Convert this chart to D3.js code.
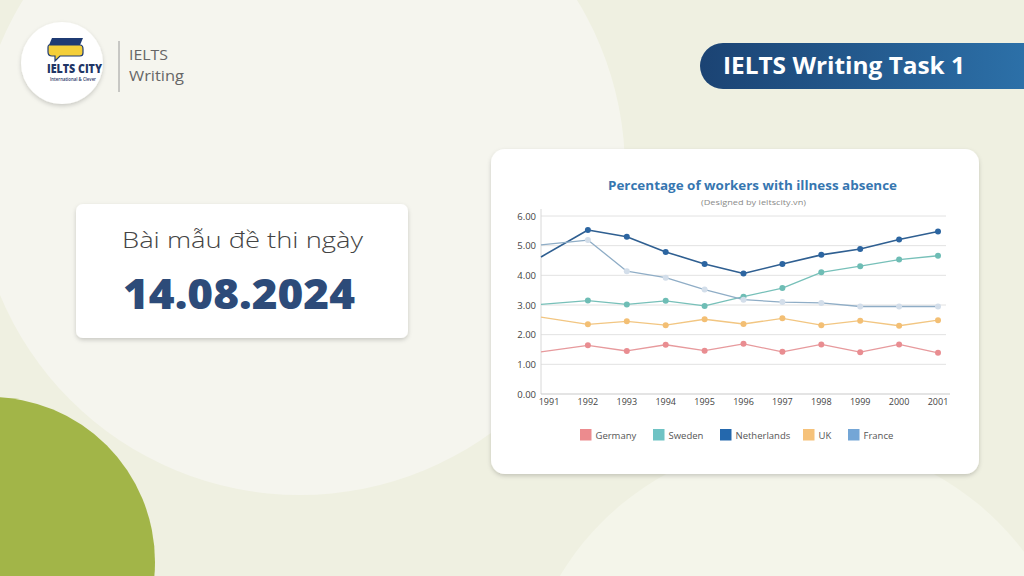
<!DOCTYPE html>
<html>
<head>
<meta charset="utf-8">
<script src="https://cdn.jsdelivr.net/npm/d3@7"></script>
<style>
  html, body { margin: 0; padding: 0; background: #f0f1e4; }
  svg { display: block; }
  text { font-family: "Open Sans", "DejaVu Sans", sans-serif; }
</style>
</head>
<body>
<svg id="page" width="1024" height="576"></svg>
<script>
// ---------- data ----------
const years = [1991, 1992, 1993, 1994, 1995, 1996, 1997, 1998, 1999, 2000, 2001];
const germany     = [1.42, 1.64, 1.45, 1.66, 1.46, 1.69, 1.42, 1.67, 1.41, 1.67, 1.39];
const sweden      = [3.02, 3.15, 3.02, 3.14, 2.97, 3.28, 3.57, 4.10, 4.31, 4.53, 4.66];
const netherlands = [4.62, 5.53, 5.30, 4.79, 4.38, 4.06, 4.38, 4.69, 4.89, 5.21, 5.48];
const uk          = [2.59, 2.35, 2.45, 2.32, 2.52, 2.36, 2.55, 2.32, 2.47, 2.30, 2.49];
const france      = [5.03, 5.19, 4.14, 3.92, 3.52, 3.18, 3.10, 3.07, 2.95, 2.95, 2.95];
const seriesNames = ["Germany", "Sweden", "Netherlands", "UK", "France"];
const yTicks = [0, 1, 2, 3, 4, 5, 6];
const chartTitle = "Percentage of workers with illness absence";
const chartSubtitle = "(Designed by ieltscity.vn)";

const seriesValues = [germany, sweden, netherlands, uk, france];
const legendColors = ["#ec8b8e", "#6fc3c4", "#2468ad", "#f6c27a", "#74a6d6"];
const lineColors   = ["#e79a9d", "#77c0b9", "#2f5f91", "#f2c682", "#8fadc6"];
const dotColors    = ["#e98d91", "#6ebdb5", "#2c65a1", "#f3bf74", "#d3deea"];

const svg = d3.select("#page");
const defs = svg.append("defs");

const sh = defs.append("filter").attr("id", "shadow").attr("x", "-10%").attr("y", "-10%").attr("width", "120%").attr("height", "130%");
sh.append("feDropShadow").attr("dx", 0).attr("dy", 2).attr("stdDeviation", 2).attr("flood-color", "#000").attr("flood-opacity", 0.18);

const grad = defs.append("linearGradient").attr("id", "banner").attr("x1", 0).attr("x2", 1).attr("y1", 0).attr("y2", 0);
grad.append("stop").attr("offset", "0%").attr("stop-color", "#1b4373");
grad.append("stop").attr("offset", "100%").attr("stop-color", "#2c70a8");

function wideText(sel, len) {
  return sel.attr("textLength", len).attr("lengthAdjust", "spacingAndGlyphs");
}

// ---------- background ----------
svg.append("rect").attr("width", 1024).attr("height", 576).attr("fill", "#eff0e1");
svg.append("circle").attr("cx", 300).attr("cy", 170).attr("r", 325).attr("fill", "#f5f5ee");
svg.append("circle").attr("cx", 800).attr("cy", 720).attr("r", 280).attr("fill", "#f4f5ea");
svg.append("circle").attr("cx", -10).attr("cy", 562).attr("r", 165).attr("fill", "#a2b548");

// ---------- logo ----------
svg.append("circle").attr("cx", 62).attr("cy", 63).attr("r", 41).attr("fill", "#ffffff").attr("filter", "url(#shadow)");
svg.append("path").attr("d", "M52,38 L83,38 L80,45 L49,45 Z").attr("fill", "#1f3b73");
svg.append("path").attr("d", "M49,45 L80,45 Q83,45 83,49 L83,53 Q83,56 80,56 L60,56 L55,61 L55,56 L52,56 Q48,56 48,52 L48,48 Q48,45 49,45 Z")
  .attr("fill", "#f4cf3a").attr("stroke", "#1f3b73").attr("stroke-width", 1.2);
wideText(svg.append("text").attr("x", 47).attr("y", 72.5).attr("font-size", 12).attr("font-weight", 800).attr("fill", "#1f3566").text("IELTS CITY"), 55);
wideText(svg.append("text").attr("x", 50).attr("y", 80.5).attr("font-size", 5.2).attr("font-weight", 600).attr("fill", "#1f3566").text("International & Clever"), 46);
svg.append("line").attr("x1", 119).attr("x2", 119).attr("y1", 41).attr("y2", 92).attr("stroke", "#9a9a9a").attr("stroke-width", 1);
wideText(svg.append("text").attr("x", 129).attr("y", 60).attr("font-size", 14).attr("fill", "#666").text("IELTS"), 39);
wideText(svg.append("text").attr("x", 129).attr("y", 80.5).attr("font-size", 14).attr("fill", "#666").text("Writing"), 55);

// ---------- banner ----------
svg.append("path").attr("d", "M723,43 L1024,43 L1024,89 L723,89 A23,23 0 0 1 723,43 Z").attr("fill", "url(#banner)");
wideText(svg.append("text").attr("x", 723).attr("y", 74).attr("font-size", 22.5).attr("font-weight", 700).attr("fill", "#ffffff").text("IELTS Writing Task 1"), 242);

// ---------- date card ----------
svg.append("rect").attr("x", 76).attr("y", 204).attr("width", 332).attr("height", 134).attr("rx", 7).attr("fill", "#ffffff").attr("filter", "url(#shadow)");
wideText(svg.append("text").attr("x", 122).attr("y", 248).attr("font-size", 21.5).attr("font-weight", 300).attr("fill", "#444").text("Bài mẫu đề thi ngày"), 241);
wideText(svg.append("text").attr("x", 123).attr("y", 309).attr("font-size", 42).attr("font-weight", 800).attr("fill", "#2d4b79").text("14.08.2024"), 232);

// ---------- chart card ----------
svg.append("rect").attr("x", 491).attr("y", 149).attr("width", 488).attr("height", 325).attr("rx", 14).attr("fill", "#ffffff").attr("filter", "url(#shadow)");
wideText(svg.append("text").attr("x", 608).attr("y", 190).attr("font-size", 12.5).attr("font-weight", 700).attr("fill", "#3676b0").text(chartTitle), 289);
wideText(svg.append("text").attr("x", 701).attr("y", 205).attr("font-size", 7.5).attr("fill", "#8a8a8a").text(chartSubtitle), 105);

const plotLeft = 541, plotRight = 946, plotTop = 216, plotBottom = 394;
const x = d3.scaleLinear().domain([years[0], years[years.length - 1]]).range([549, 938]);
const y = d3.scaleLinear().domain([0, 6]).range([plotBottom, plotTop]);

const g = svg.append("g");
g.selectAll(".grid").data(yTicks.filter(t => t > 0)).join("line")
  .attr("x1", plotLeft).attr("x2", plotRight)
  .attr("y1", d => y(d)).attr("y2", d => y(d))
  .attr("stroke", "#e2e2e2").attr("stroke-width", 1);
g.append("line").attr("x1", plotLeft).attr("x2", plotLeft).attr("y1", plotTop - 7).attr("y2", plotBottom).attr("stroke", "#d8d8d8");
g.append("line").attr("x1", plotLeft).attr("x2", plotRight + 4).attr("y1", plotBottom).attr("y2", plotBottom).attr("stroke", "#c9c9c9");
g.selectAll(".ylab").data(yTicks).join("text")
  .attr("x", 536).attr("y", d => y(d) + 3.5).attr("text-anchor", "end")
  .attr("font-size", 9.5).attr("fill", "#444").text(d => d.toFixed(2));
g.selectAll(".xlab").data(years).join("text")
  .attr("x", d => x(d)).attr("y", 405).attr("text-anchor", "middle")
  .attr("font-size", 9).attr("fill", "#444").text(d => d);

const lineGen = d3.line()
  .x((d, i) => i === 0 ? plotLeft : x(years[i]))
  .y(d => y(d));
seriesValues.forEach((vals, s) => {
  g.append("path").attr("d", lineGen(vals)).attr("fill", "none")
    .attr("stroke", lineColors[s]).attr("stroke-width", s === 2 ? 1.6 : 1.3).attr("stroke-linejoin", "round");
});
seriesValues.forEach((vals, s) => {
  g.selectAll(".dot" + s).data(vals.slice(1)).join("circle")
    .attr("cx", (d, i) => x(years[i + 1])).attr("cy", d => y(d)).attr("r", 3)
    .attr("fill", dotColors[s]);
});

const legendX = [580, 653, 720, 803, 848];
seriesNames.forEach((name, i) => {
  svg.append("rect").attr("x", legendX[i]).attr("y", 429).attr("width", 11.5).attr("height", 11.5).attr("fill", legendColors[i]);
  svg.append("text").attr("x", legendX[i] + 15.5).attr("y", 438.5).attr("font-size", 9.5).attr("fill", "#555").text(name);
});
</script>
</body>
</html>
